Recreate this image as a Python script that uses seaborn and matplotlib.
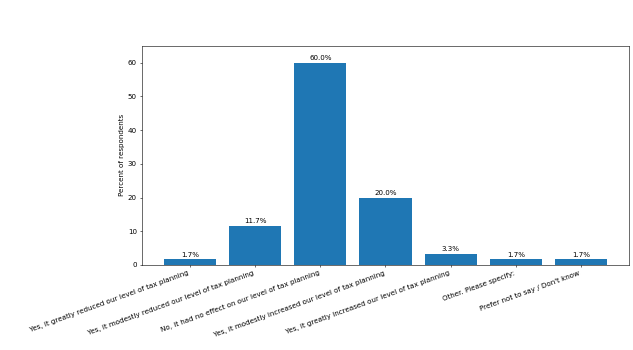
import matplotlib
matplotlib.use("Agg")
import matplotlib.pyplot as plt
import seaborn as sns
import pandas as pd

categories = [
    "Yes, it greatly reduced our level of tax planning",
    "Yes, it modestly reduced our level of tax planning",
    "No, it had no effect on our level of tax planning",
    "Yes, it modestly increased our level of tax planning",
    "Yes, it greatly increased our level of tax planning",
    "Other. Please specify:",
    "Prefer not to say / Don't know",
]
values = [1.7, 11.7, 60.0, 20.0, 3.3, 1.7, 1.7]

df = pd.DataFrame({"cat": categories, "val": values})

DPI = 51
fig = plt.figure(figsize=(633 / DPI, 350 / DPI), dpi=DPI)
ax = fig.add_axes([0.224, 0.243, 0.770, 0.626])
sns.barplot(data=df, x="cat", y="val", color="#1f77b4", saturation=1, ax=ax,
            width=0.8, linewidth=0)
for p, v in zip(ax.patches, values):
    ax.annotate(f"{v:.1f}%", (p.get_x() + p.get_width() / 2, p.get_height()),
                ha="center", va="bottom", fontsize=10, xytext=(0, 2),
                textcoords="offset points")
ax.set_xlim(-0.74, len(categories) - 1 + 0.74)
ax.set_ylim(0, 65)
ax.set_xlabel("")
ax.set_ylabel("Percent of respondents", fontsize=10)
ax.tick_params(axis="both", labelsize=10)
plt.setp(ax.get_xticklabels(), rotation=20, ha="right")
fig.savefig("out.png", dpi=DPI)
